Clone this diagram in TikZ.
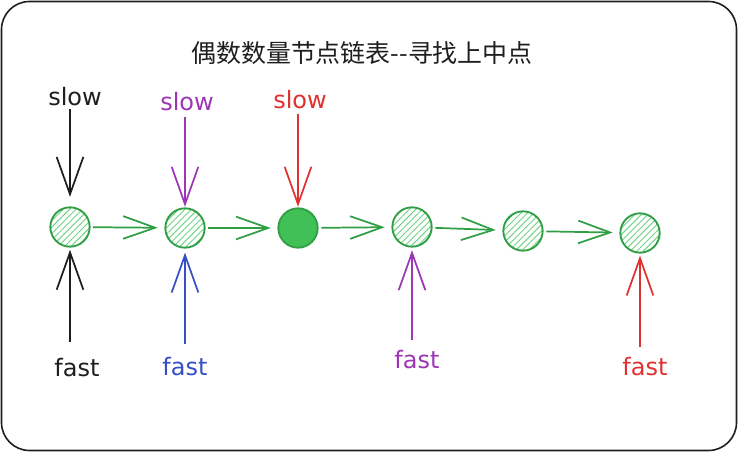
\documentclass[tikz,border=0pt]{standalone}
\usepackage{fontspec}
\setmainfont{DejaVu Sans}
\newfontfamily\cjk{Noto Sans CJK SC}
\usetikzlibrary{arrows.meta,patterns.meta}
\definecolor{ink}{HTML}{1E1E1E}
\definecolor{gstroke}{HTML}{2F9E44}
\definecolor{gfill}{HTML}{40C057}
\definecolor{ghatch}{HTML}{6FD384}
\definecolor{vio}{HTML}{9C36B5}
\definecolor{rd}{HTML}{E03131}
\definecolor{bl}{HTML}{364FC7}
\begin{document}
\begin{tikzpicture}[x=0.75pt,y=-0.75pt,
  listnode/.style={circle,draw=gstroke,line width=1.4pt,minimum size=29.5pt,inner sep=0pt,
    pattern={Lines[angle=45,distance=3.4pt,line width=0.7pt]},pattern color=ghatch},
  solidnode/.style={circle,draw=gstroke,fill=gfill,line width=1.4pt,minimum size=29.5pt,inner sep=0pt},
  link/.style={draw=gstroke,line width=1.3pt,-{Straight Barb[length=24pt,width=17pt,line width=1.3pt]},
    shorten <=2pt,shorten >=5pt},
  ptr/.style={line width=1.3pt,-{Straight Barb[length=28pt,width=20pt,line width=1.3pt]}},
  lab/.style={font=\fontsize{18}{20}\selectfont,inner sep=1pt}]
\useasboundingbox (0,0) rectangle (738,452);
\draw[ink,line width=1.2pt,rounded corners=21pt] (1.5,1.5) rectangle (736.5,450.5);

\node[font=\cjk\fontsize{18.7}{20}\selectfont,text=ink] (title) at (362,53) {偶数数量节点链表--寻找上中点};

\node[listnode] (c1) at (70,227) {};
\node[listnode] (c2) at (185,228) {};
\node[solidnode] (c3) at (298,228) {};
\node[listnode] (c4) at (412,227) {};
\node[listnode] (c5) at (523,231) {};
\node[listnode] (c6) at (640,233) {};

\draw[link] (c1) -- (c2);
\draw[link] (c2) -- (c3);
\draw[link] (c3) -- (c4);
\draw[link] (c4) -- (c5);
\draw[link] (c5) -- (c6);

\node[lab,text=ink] (s1) at (75,97) {slow};
\node[lab,text=vio] (s2) at (187,102) {slow};
\node[lab,text=rd] (s3) at (300,100) {slow};

\node[lab,text=ink] (f1) at (77,368) {fast};
\node[lab,text=bl] (f2) at (185,367) {fast};
\node[lab,text=vio] (f4) at (417,360) {fast};
\node[lab,text=rd] (f6) at (645,367) {fast};

\draw[ptr,ink,shorten <=1pt,shorten >=7.5pt] (s1.south -| c1) -- (c1.north);
\draw[ptr,vio,shorten <=3pt,shorten >=0.5pt] (s2.south -| c2) -- (c2.north);
\draw[ptr,rd,shorten <=2pt,shorten >=0.5pt] (s3.south -| c3) -- (c3.north);

\draw[ptr,ink,shorten <=11pt,shorten >=2pt] (f1.north -| c1) -- (c1.south);
\draw[ptr,bl,shorten <=9pt,shorten >=3pt] (f2.north -| c2) -- (c2.south);
\draw[ptr,vio,shorten <=7pt,shorten >=2pt] (f4.north -| c4) -- (c4.south);
\draw[ptr,rd,shorten <=7pt,shorten >=1.5pt] (f6.north -| c6) -- (c6.south);
\end{tikzpicture}
\end{document}
